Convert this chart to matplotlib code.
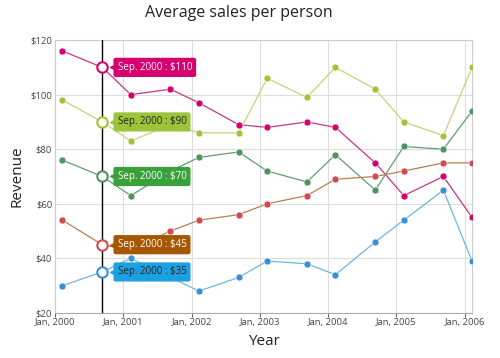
import datetime as dt
import matplotlib
matplotlib.use("Agg")
import matplotlib.pyplot as plt
import matplotlib.dates as mdates
from matplotlib.transforms import offset_copy

plt.rcParams['font.family'] = ['Open Sans', 'DejaVu Sans']

# data
dates = [dt.datetime(y, m, 10) for y in range(2000, 2007) for m in (2, 9)][:13]
sales_a = [116, 110, 100, 102, 97, 89, 88, 90, 88, 75, 63, 70, 55]
sales_b = [98, 90, 83, 89, 86, 86, 106, 99, 110, 102, 90, 85, 110]
sales_c = [76, 70, 63, 72, 77, 79, 72, 68, 78, 65, 81, 80, 94]
sales_d = [54, 45, 43, 50, 54, 56, 60, 63, 69, 70, 72, 75, 75]
sales_e = [30, 35, 40, 33, 28, 33, 39, 38, 34, 46, 54, 65, 39]
series = [sales_a, sales_b, sales_c, sales_d, sales_e]
tracked = 1  # index of Sep 2000

point_colors = ['#d5006e', '#a4c13a', '#4e9460', '#d04a4e', '#3b8ed6']
line_colors = ['#c9357f', '#c4d27a', '#5f9e6e', '#b5804f', '#6bb8dc']
label_colors = ['#d6006f', '#9bc43a', '#3aa03a', '#a65700', '#1ba1e2']
label_text = ['white', '#222222', 'white', 'white', '#222222']

fig = plt.figure(figsize=(5, 3.58), dpi=100)
ax = fig.add_axes([0.11, 0.126, 0.834, 0.762])

for vals, pc, lc in zip(series, point_colors, line_colors):
    ax.plot(dates, vals, color=lc, lw=0.9, zorder=2)
    ax.plot(dates, vals, 'o', color=pc, ms=5, mec='white', mew=0.4, zorder=3)

# crosshair
ax.axvline(dates[tracked], color='black', lw=1, zorder=4)

for vals, pc, fc, tc in zip(series, point_colors, label_colors, label_text):
    x, y = dates[tracked], vals[tracked]
    ax.plot([x], [y], 'o', ms=7.5, mfc='white', mec=pc, mew=1.5, zorder=5)
    tri = offset_copy(ax.transData, fig=fig, x=8.5, y=0, units='points')
    ax.plot([x], [y], marker='<', ms=6, color=fc, mec=fc, transform=tri, zorder=6)
    ax.annotate('Sep. 2000 : $%d' % y, (x, y), xytext=(11, 0), textcoords='offset points',
                ha='left', va='center', fontsize=7, color=tc, zorder=7,
                bbox=dict(boxstyle='round,pad=0.35,rounding_size=0.15', fc=fc, ec=fc))

ax.set_xlim(dt.datetime(2000, 1, 1), dates[-1])
ax.set_ylim(20, 120)
ax.set_yticks(range(20, 121, 20))
ax.set_yticklabels(['$%d' % v for v in range(20, 121, 20)])
ax.xaxis.set_major_locator(mdates.YearLocator())
ax.xaxis.set_major_formatter(mdates.DateFormatter('Jan, %Y'))
ax.tick_params(axis='both', labelsize=6.8, colors='#444444', length=3, width=0.6, pad=1)
ax.tick_params(axis='y', length=0, pad=2)
ax.grid(True, color='#dddddd', lw=0.8)
ax.set_axisbelow(True)
for s in ax.spines.values():
    s.set_color('#cccccc')
    s.set_linewidth(0.8)
ax.spines['bottom'].set_color('#aaaaaa')

fig.suptitle('Average sales per person', x=0.477, y=0.985, fontsize=11.5, color='#222222', va='top')
ax.set_xlabel('Year', fontsize=11, color='#222222', labelpad=5)
ax.set_ylabel('Revenue', fontsize=11, color='#222222', labelpad=4)

fig.savefig('out.png', dpi=100)
